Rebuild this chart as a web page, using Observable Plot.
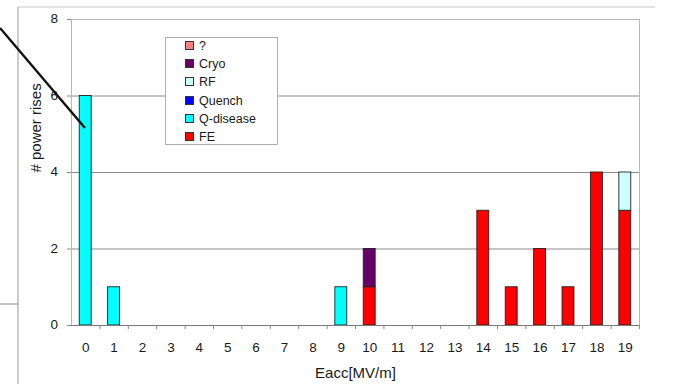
<!DOCTYPE html>
<html>
<head>
<meta charset="utf-8">
<script src="https://cdn.jsdelivr.net/npm/d3@7"></script>
<script src="https://cdn.jsdelivr.net/npm/@observablehq/plot@0.6"></script>
<style>
  html, body { margin: 0; padding: 0; background: #fff; }
  #wrap { position: relative; width: 673px; height: 384px; overflow: hidden; font-family: "Liberation Sans", Arial, sans-serif; }
  #chart { position: absolute; left: 0; top: 0; }
  #deco { position: absolute; left: 0; top: 0; pointer-events: none; }
  #legend { position: absolute; left: 165px; top: 37px; width: 113px; height: 108px; border: 1px solid #b0b0b0; background: #fff; box-sizing: border-box; }
  .row { position: absolute; left: 19px; height: 14px; font-size: 12.5px; color: #1a1a1a; line-height: 14px; white-space: nowrap; }
  .sw { display: inline-block; width: 7px; height: 7px; border: 1px solid #333; margin-right: 5px; vertical-align: 0px; }
  .ylab { position: absolute; width: 30px; height: 16px; line-height: 16px; text-align: right; font-size: 13.5px; color: #1a1a1a; }
</style>
</head>
<body>
<div id="wrap">
  <div id="chart"></div>
  <svg id="deco" width="673" height="384"></svg>
  <div id="ylabels"></div>
  <div id="legend"></div>
</div>
<script>
// ---- data ----
const categories = ["0","1","2","3","4","5","6","7","8","9","10","11","12","13","14","15","16","17","18","19"];
const FE       = [0,0,0,0,0,0,0,0,0,0,1,0,0,0,3,1,2,1,4,3];
const Qdisease = [6,1,0,0,0,0,0,0,0,1,0,0,0,0,0,0,0,0,0,0];
const Quench   = [0,0,0,0,0,0,0,0,0,0,0,0,0,0,0,0,0,0,0,0];
const RF       = [0,0,0,0,0,0,0,0,0,0,0,0,0,0,0,0,0,0,0,1];
const Cryo     = [0,0,0,0,0,0,0,0,0,0,1,0,0,0,0,0,0,0,0,0];
const Unknown  = [0,0,0,0,0,0,0,0,0,0,0,0,0,0,0,0,0,0,0,0];
const yTicks = [0,2,4,6,8];

// stacking order bottom -> top
const seriesNames  = ["FE","Q-disease","Quench","RF","Cryo","?"];
const seriesValues = [FE, Qdisease, Quench, RF, Cryo, Unknown];
const seriesColors = ["#ff0000","#00ffff","#0000ff","#ccffff","#660066","#ff8080"];

const rows = [];
seriesNames.forEach((name, s) => {
  categories.forEach((c, i) => {
    const v = seriesValues[s][i];
    if (v > 0) rows.push({cat: c, type: name, value: v});
  });
});

const W = 673, H = 384;
const mL = 71, mR = 34, mT = 19, mB = 59;
const step = (W - mL - mR) / categories.length;

const chart = Plot.plot({
  width: W, height: H,
  marginLeft: mL, marginRight: mR, marginTop: mT, marginBottom: mB,
  style: {fontFamily: '"Liberation Sans", Arial, sans-serif', fontSize: "13.5px", color: "#1a1a1a", background: "transparent"},
  x: {type: "band", domain: categories, paddingInner: 0.58, paddingOuter: 0.29, align: 0.5, round: false},
  y: {domain: [0, 8]},
  color: {domain: seriesNames, range: seriesColors},
  marks: [
    Plot.ruleY(yTicks.filter(d => d > 0), {stroke: "#8a8a8a", strokeWidth: 1}),
    Plot.frame({stroke: "#b8b8b8"}),
    Plot.barY(rows, {x: "cat", y: "value", fill: "type", stroke: "#222", strokeWidth: 0.9, order: seriesNames}),
    Plot.ruleY([0], {stroke: "#777"}),
    Plot.axisY({ticks: yTicks, tickSize: 4, tickFormat: () => "", stroke: "#888", label: null}),
    Plot.axisX({tickSize: 0, tickPadding: 17, fill: "#1a1a1a", fontSize: 13.5, label: null}),
    Plot.axisX({tickSize: 4, tickFormat: () => "", label: null, dx: step / 2, stroke: "#888"}),
    Plot.text(["# power rises"], {frameAnchor: "left", dx: -35, rotate: -90, fontSize: 15, fill: "#1a1a1a"}),
    Plot.text(["Eacc[MV/m]"], {frameAnchor: "bottom", dy: 52, fontSize: 15, fill: "#1a1a1a"})
  ]
});
document.getElementById("chart").appendChild(chart);

// ---- y tick labels, placed with the chart's own y scale ----
const yScale = chart.scale("y");
const ylabels = document.getElementById("ylabels");
yTicks.forEach(d => {
  const el = document.createElement("div");
  el.className = "ylab";
  el.style.left = (mL - 13 - 30) + "px";
  el.style.top = (yScale.apply(d) - 8) + "px";
  el.textContent = String(d);
  ylabels.appendChild(el);
});

// ---- legend (top of list = last stacked) ----
const legend = document.getElementById("legend");
const legendOrder = seriesNames.map((n, i) => i).reverse();
legendOrder.forEach((i, k) => {
  const r = document.createElement("div");
  r.className = "row";
  r.style.top = (1 + k * 18.2) + "px";
  r.innerHTML = `<span class="sw" style="background:${seriesColors[i]}"></span>${seriesNames[i]}`;
  legend.appendChild(r);
});

// ---- slide decorations (not data) ----
const deco = d3.select("#deco");
deco.append("line").attr("x1", 18).attr("y1", 7).attr("x2", 655).attr("y2", 7).attr("stroke", "#c8c8c8").attr("stroke-width", 1.2);
deco.append("line").attr("x1", 18).attr("y1", 7).attr("x2", 18).attr("y2", 384).attr("stroke", "#a8a8a8").attr("stroke-width", 1.2);
deco.append("line").attr("x1", 0).attr("y1", 304).attr("x2", 18).attr("y2", 304).attr("stroke", "#888").attr("stroke-width", 1);
deco.append("line").attr("x1", 0).attr("y1", 28).attr("x2", 85).attr("y2", 128).attr("stroke", "#111").attr("stroke-width", 2.4);
</script>
</body>
</html>
